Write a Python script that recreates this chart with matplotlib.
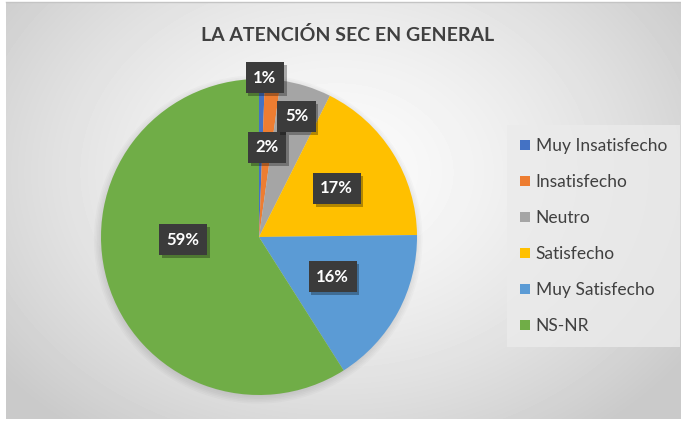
import numpy as np
import matplotlib
matplotlib.use("Agg")
import matplotlib.pyplot as plt
import matplotlib.patheffects as pe
from matplotlib.patches import Patch

plt.rcParams['font.family'] = ['Lato', 'DejaVu Sans']

# data
categories = ["Muy Insatisfecho", "Insatisfecho", "Neutro", "Satisfecho", "Muy Satisfecho", "NS-NR"]
shares = [0.6, 1.6, 5.2, 17.4, 16.2, 59.0]
colors = ["#4472C4", "#ED7D31", "#A5A5A5", "#FFC000", "#5B9BD5", "#70AD47"]
title = "LA ATENCIÓN SEC EN GENERAL"

# where Excel put each label: distance from centre, and angle shift
label_r = [1.01, 0.57, 0.80, 0.58, 0.53, 0.48]
label_shift = [-1, 0, 0, 0, 0, -14]

W, H = 681, 421
fig = plt.figure(figsize=(W / 100, H / 100), dpi=100)
fig.patch.set_facecolor("white")

# gray radial background of the chart area
bg = fig.add_axes([6 / W, 2 / H, 1 - 6 / W, 417 / H])
yy, xx = np.mgrid[0:417, 0:675]
d = np.sqrt(((xx - 330) / 420.0) ** 2 + ((yy - 170) / 320.0) ** 2)
shade = np.clip(0.985 - 0.19 * d ** 1.5, 0.79, 1)
bg.imshow(shade, cmap="gray", vmin=0, vmax=1, aspect="auto", interpolation="bilinear")
bg.axis("off")
fig.add_artist(plt.Line2D([6 / W, 1], [419 / H, 419 / H], color="#c4c4c4", lw=1))

# pie, centre (259, 237) px, radius 158 px
cx, cy, r = 259, 237, 158
ax = fig.add_axes([(cx - r) / W, (H - cy - r) / H, 2 * r / W, 2 * r / H])

wedges, _ = ax.pie(shares, colors=colors, startangle=90, counterclock=False,
                   radius=1.0, wedgeprops=dict(linewidth=0))
for w in wedges:
    w.set_zorder(1)
ax.set_xlim(-1, 1)
ax.set_ylim(-1, 1)
ax.set_aspect("equal")
ax.axis("off")

# soft shadow under the pie
for k in range(6):
    ax.add_patch(plt.Circle((-0.005, -0.015), 0.99 + 0.01 * k, color="black",
                            alpha=0.018, lw=0, zorder=0, clip_on=False))

for w, val, lr, sh in zip(wedges, shares, label_r, label_shift):
    mid = np.deg2rad((w.theta1 + w.theta2) / 2 + sh)
    t = ax.text(lr * np.cos(mid), lr * np.sin(mid), f"{round(val)}%",
                ha="center", va="center", color="white", fontsize=12,
                fontweight="bold", zorder=5,
                bbox=dict(boxstyle="square,pad=0.45", facecolor="#3b3b3b",
                          edgecolor="none"))
    t.get_bbox_patch().set_path_effects([
        pe.SimplePatchShadow(offset=(2, -2), shadow_rgbFace="black", alpha=0.3),
        pe.Normal()])

fig.text(348 / W, 1 - 35 / H, title, ha="center", va="center",
         fontsize=14, fontweight="bold", color="#404040")

handles = [Patch(facecolor=c, edgecolor="none") for c in colors]
leg = fig.legend(handles, categories, loc="center left",
                 bbox_to_anchor=(507 / W, 1 - 236 / H), frameon=True,
                 fontsize=12.5, labelspacing=1.15, handlelength=0.55,
                 handleheight=0.55, handletextpad=0.35, borderpad=0.75,
                 borderaxespad=0, fancybox=False)
leg.get_frame().set_facecolor("#ebebeb")
leg.get_frame().set_edgecolor("none")
for txt in leg.get_texts():
    txt.set_color("#404040")

fig.savefig("out.png", dpi=100, facecolor="white")
